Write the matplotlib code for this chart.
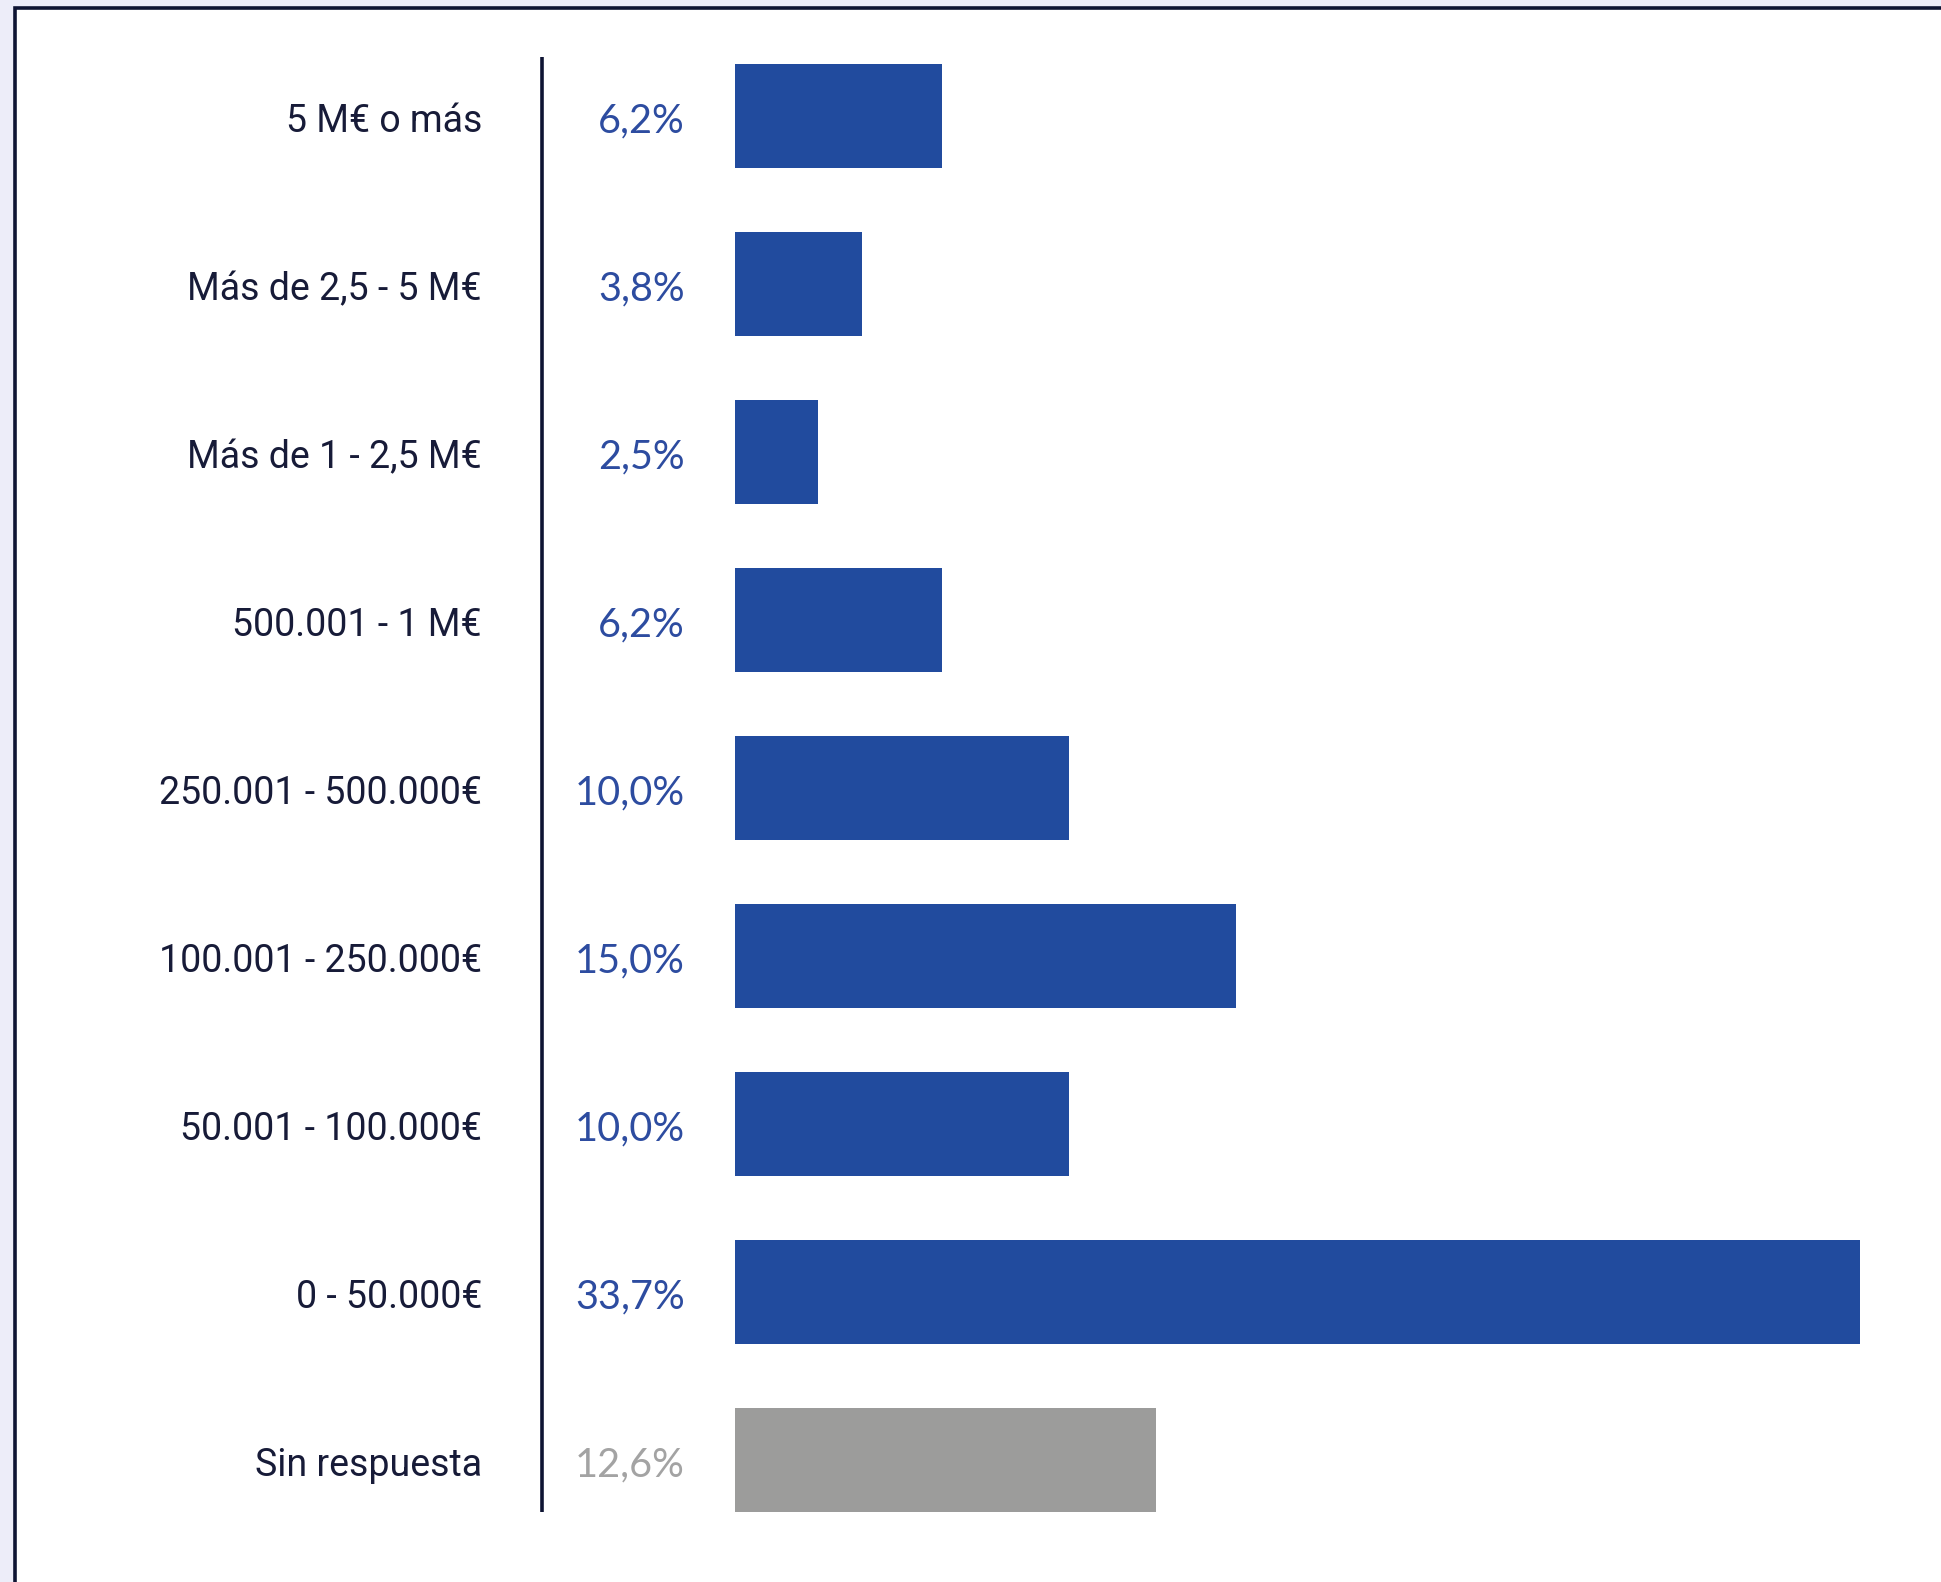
import numpy as np
import matplotlib
matplotlib.use("Agg")
import matplotlib.pyplot as plt
from matplotlib.patches import Rectangle

# ---------- data ----------
categories = [
    "5 M€ o más",
    "Más de 2,5 - 5 M€",
    "Más de 1 - 2,5 M€",
    "500.001 - 1 M€",
    "250.001 - 500.000€",
    "100.001 - 250.000€",
    "50.001 - 100.000€",
    "0 - 50.000€",
    "Sin respuesta",
]
values = [6.2, 3.8, 2.5, 6.2, 10.0, 15.0, 10.0, 33.7, 12.6]
is_no_answer = [False] * 8 + [True]

# ---------- style ----------
col_bar = "#214B9E"
col_bar_na = "#9C9C9B"
col_pct = "#2D4CA0"
col_pct_na = "#A3A3A3"
col_label = "#171B38"
col_frame = "#0E1433"
col_bg = "#EDEDF9"

W, H, DPI = 1941, 1582, 100
fig = plt.figure(figsize=(W / DPI, H / DPI), dpi=DPI, facecolor=col_bg)

# white card with navy border (only left/top visible)
fig.patches.append(Rectangle((15 / W, -0.1), 1.2, (H - 8) / H + 0.1,
                             transform=fig.transFigure, facecolor="white",
                             edgecolor=col_frame, linewidth=2.6, zorder=-5))

# bar axes: bars start at x=735px, 33.38px per %
px_per = 1125 / 33.7
x0 = 735
xmax = 35
row = 168
y_top = 116.4 - row / 2
ax = fig.add_axes([x0 / W, (H - (y_top + 9 * row)) / H, xmax * px_per / W, 9 * row / H])
ax.set_facecolor("none")
ax.set_zorder(2)
ax.set_xlim(0, xmax)
ax.set_ylim(8.5, -0.5)
ax.axis("off")

y = np.arange(len(categories))
colors = [col_bar_na if na else col_bar for na in is_no_answer]
ax.barh(y, values, height=104 / row, color=colors, zorder=2)


def px2x(px):
    return (px - x0) / px_per


# vertical separator
ax.plot([px2x(542)] * 2, [(57 - 116.4) / row, (1512 - 116.4) / row],
        color=col_frame, lw=2.6, clip_on=False, solid_capstyle="butt")

dy = 0.03  # texts sit a bit below the bar centre
for i, (cat, v, na) in enumerate(zip(categories, values, is_no_answer)):
    ax.text(px2x(482), i + dy, cat, ha="right", va="center", fontsize=27,
            family="Roboto", color=col_label, clip_on=False)
    ax.text(px2x(685), i + dy, f"{v:.1f}%".replace(".", ","), ha="right",
            va="center", fontsize=28.5, family="Lato",
            color=col_pct_na if na else col_pct, clip_on=False)

fig.savefig("out.png", dpi=DPI, facecolor=col_bg)
